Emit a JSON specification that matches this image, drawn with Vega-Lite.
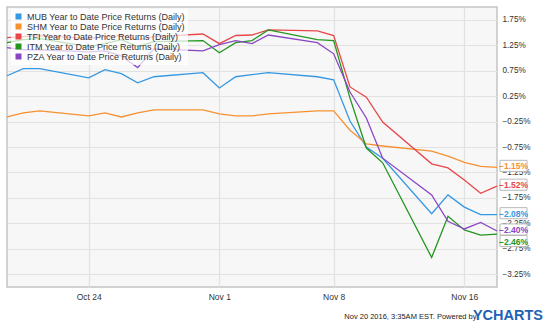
{
  "$schema": "https://vega.github.io/schema/vega-lite/v6.json",
  "width": 490,
  "height": 280,
  "autosize": {"type": "none"},
  "padding": {"left": 7, "top": 7, "right": 53, "bottom": 37},
  "background": "white",
  "config": {
    "font": "Liberation Sans",
    "view": {"fill": "#f7f7f7", "stroke": "#c4c4c4", "strokeWidth": 1.5}
  },
  "title": {
    "text": "YCHARTS",
    "orient": "bottom",
    "anchor": "end",
    "frame": "group",
    "fontSize": 14.5,
    "fontWeight": "bold",
    "color": "#1e63b5",
    "dx": 46,
    "dy": -11,
    "offset": 0
  },
  "data": {
    "values": [
      {"ticker": "MUB", "date": "2016-10-19", "value": 0.65},
      {"ticker": "MUB", "date": "2016-10-20", "value": 0.79},
      {"ticker": "MUB", "date": "2016-10-21", "value": 0.79},
      {"ticker": "MUB", "date": "2016-10-24", "value": 0.61},
      {"ticker": "MUB", "date": "2016-10-25", "value": 0.77},
      {"ticker": "MUB", "date": "2016-10-26", "value": 0.69},
      {"ticker": "MUB", "date": "2016-10-27", "value": 0.51},
      {"ticker": "MUB", "date": "2016-10-28", "value": 0.63},
      {"ticker": "MUB", "date": "2016-10-31", "value": 0.71},
      {"ticker": "MUB", "date": "2016-11-01", "value": 0.41},
      {"ticker": "MUB", "date": "2016-11-02", "value": 0.63},
      {"ticker": "MUB", "date": "2016-11-03", "value": 0.67},
      {"ticker": "MUB", "date": "2016-11-04", "value": 0.71},
      {"ticker": "MUB", "date": "2016-11-07", "value": 0.63},
      {"ticker": "MUB", "date": "2016-11-08", "value": 0.57},
      {"ticker": "MUB", "date": "2016-11-09", "value": -0.24},
      {"ticker": "MUB", "date": "2016-11-10", "value": -0.75},
      {"ticker": "MUB", "date": "2016-11-11", "value": -0.97},
      {"ticker": "MUB", "date": "2016-11-14", "value": -2.06},
      {"ticker": "MUB", "date": "2016-11-15", "value": -1.69},
      {"ticker": "MUB", "date": "2016-11-16", "value": -1.93},
      {"ticker": "MUB", "date": "2016-11-17", "value": -2.08},
      {"ticker": "MUB", "date": "2016-11-18", "value": -2.08},
      {"ticker": "SHM", "date": "2016-10-19", "value": -0.16},
      {"ticker": "SHM", "date": "2016-10-20", "value": -0.08},
      {"ticker": "SHM", "date": "2016-10-21", "value": -0.04},
      {"ticker": "SHM", "date": "2016-10-24", "value": -0.14},
      {"ticker": "SHM", "date": "2016-10-25", "value": -0.08},
      {"ticker": "SHM", "date": "2016-10-26", "value": -0.16},
      {"ticker": "SHM", "date": "2016-10-27", "value": -0.08},
      {"ticker": "SHM", "date": "2016-10-28", "value": -0.02},
      {"ticker": "SHM", "date": "2016-10-31", "value": -0.02},
      {"ticker": "SHM", "date": "2016-11-01", "value": -0.10},
      {"ticker": "SHM", "date": "2016-11-02", "value": -0.14},
      {"ticker": "SHM", "date": "2016-11-03", "value": -0.14},
      {"ticker": "SHM", "date": "2016-11-04", "value": -0.10},
      {"ticker": "SHM", "date": "2016-11-07", "value": -0.04},
      {"ticker": "SHM", "date": "2016-11-08", "value": -0.04},
      {"ticker": "SHM", "date": "2016-11-09", "value": -0.42},
      {"ticker": "SHM", "date": "2016-11-10", "value": -0.69},
      {"ticker": "SHM", "date": "2016-11-11", "value": -0.73},
      {"ticker": "SHM", "date": "2016-11-14", "value": -0.83},
      {"ticker": "SHM", "date": "2016-11-15", "value": -0.93},
      {"ticker": "SHM", "date": "2016-11-16", "value": -1.05},
      {"ticker": "SHM", "date": "2016-11-17", "value": -1.13},
      {"ticker": "SHM", "date": "2016-11-18", "value": -1.15},
      {"ticker": "TFI", "date": "2016-10-19", "value": 1.40},
      {"ticker": "TFI", "date": "2016-10-20", "value": 1.42},
      {"ticker": "TFI", "date": "2016-10-21", "value": 1.44},
      {"ticker": "TFI", "date": "2016-10-24", "value": 1.38},
      {"ticker": "TFI", "date": "2016-10-25", "value": 1.42},
      {"ticker": "TFI", "date": "2016-10-26", "value": 1.44},
      {"ticker": "TFI", "date": "2016-10-27", "value": 1.36},
      {"ticker": "TFI", "date": "2016-10-28", "value": 1.42},
      {"ticker": "TFI", "date": "2016-10-31", "value": 1.47},
      {"ticker": "TFI", "date": "2016-11-01", "value": 1.28},
      {"ticker": "TFI", "date": "2016-11-02", "value": 1.44},
      {"ticker": "TFI", "date": "2016-11-03", "value": 1.45},
      {"ticker": "TFI", "date": "2016-11-04", "value": 1.55},
      {"ticker": "TFI", "date": "2016-11-07", "value": 1.53},
      {"ticker": "TFI", "date": "2016-11-08", "value": 1.44},
      {"ticker": "TFI", "date": "2016-11-09", "value": 0.43},
      {"ticker": "TFI", "date": "2016-11-10", "value": 0.23},
      {"ticker": "TFI", "date": "2016-11-11", "value": -0.26},
      {"ticker": "TFI", "date": "2016-11-14", "value": -1.08},
      {"ticker": "TFI", "date": "2016-11-15", "value": -1.16},
      {"ticker": "TFI", "date": "2016-11-16", "value": -1.40},
      {"ticker": "TFI", "date": "2016-11-17", "value": -1.66},
      {"ticker": "TFI", "date": "2016-11-18", "value": -1.52},
      {"ticker": "ITM", "date": "2016-10-19", "value": 1.30},
      {"ticker": "ITM", "date": "2016-10-20", "value": 1.36},
      {"ticker": "ITM", "date": "2016-10-21", "value": 1.38},
      {"ticker": "ITM", "date": "2016-10-24", "value": 1.22},
      {"ticker": "ITM", "date": "2016-10-25", "value": 1.28},
      {"ticker": "ITM", "date": "2016-10-26", "value": 1.36},
      {"ticker": "ITM", "date": "2016-10-27", "value": 1.22},
      {"ticker": "ITM", "date": "2016-10-28", "value": 1.32},
      {"ticker": "ITM", "date": "2016-10-31", "value": 1.34},
      {"ticker": "ITM", "date": "2016-11-01", "value": 1.10},
      {"ticker": "ITM", "date": "2016-11-02", "value": 1.30},
      {"ticker": "ITM", "date": "2016-11-03", "value": 1.34},
      {"ticker": "ITM", "date": "2016-11-04", "value": 1.55},
      {"ticker": "ITM", "date": "2016-11-07", "value": 1.36},
      {"ticker": "ITM", "date": "2016-11-08", "value": 1.34},
      {"ticker": "ITM", "date": "2016-11-09", "value": 0.21},
      {"ticker": "ITM", "date": "2016-11-10", "value": -0.77},
      {"ticker": "ITM", "date": "2016-11-11", "value": -1.06},
      {"ticker": "ITM", "date": "2016-11-14", "value": -2.92},
      {"ticker": "ITM", "date": "2016-11-15", "value": -2.11},
      {"ticker": "ITM", "date": "2016-11-16", "value": -2.38},
      {"ticker": "ITM", "date": "2016-11-17", "value": -2.48},
      {"ticker": "ITM", "date": "2016-11-18", "value": -2.46},
      {"ticker": "PZA", "date": "2016-10-19", "value": 1.20},
      {"ticker": "PZA", "date": "2016-10-20", "value": 1.16},
      {"ticker": "PZA", "date": "2016-10-21", "value": 1.16},
      {"ticker": "PZA", "date": "2016-10-24", "value": 1.12},
      {"ticker": "PZA", "date": "2016-10-25", "value": 1.14},
      {"ticker": "PZA", "date": "2016-10-26", "value": 1.04},
      {"ticker": "PZA", "date": "2016-10-27", "value": 0.81},
      {"ticker": "PZA", "date": "2016-10-28", "value": 1.18},
      {"ticker": "PZA", "date": "2016-10-31", "value": 1.14},
      {"ticker": "PZA", "date": "2016-11-01", "value": 1.26},
      {"ticker": "PZA", "date": "2016-11-02", "value": 1.34},
      {"ticker": "PZA", "date": "2016-11-03", "value": 1.28},
      {"ticker": "PZA", "date": "2016-11-04", "value": 1.45},
      {"ticker": "PZA", "date": "2016-11-07", "value": 1.30},
      {"ticker": "PZA", "date": "2016-11-08", "value": 1.08},
      {"ticker": "PZA", "date": "2016-11-09", "value": 0.33},
      {"ticker": "PZA", "date": "2016-11-10", "value": -0.18},
      {"ticker": "PZA", "date": "2016-11-11", "value": -0.97},
      {"ticker": "PZA", "date": "2016-11-14", "value": -1.69},
      {"ticker": "PZA", "date": "2016-11-15", "value": -2.21},
      {"ticker": "PZA", "date": "2016-11-16", "value": -2.36},
      {"ticker": "PZA", "date": "2016-11-17", "value": -2.23},
      {"ticker": "PZA", "date": "2016-11-18", "value": -2.40}
    ]
  },
  "encoding": {
    "x": {
      "field": "date",
      "type": "temporal",
      "scale": {
        "type": "utc",
        "domain": [
          {"year": 2016, "month": 10, "date": 19, "utc": true},
          {"year": 2016, "month": 11, "date": 18, "utc": true}
        ]
      },
      "axis": {
        "values": [
          {"year": 2016, "month": 10, "date": 24, "utc": true},
          {"year": 2016, "month": 11, "date": 1, "utc": true},
          {"year": 2016, "month": 11, "date": 8, "utc": true},
          {"year": 2016, "month": 11, "date": 16, "utc": true}
        ],
        "format": "%b %-d",
        "labelFontSize": 8.5,
        "labelColor": "#333333",
        "labelPadding": 5,
        "ticks": false,
        "domain": false,
        "grid": true,
        "gridColor": "#e2e2e2",
        "gridWidth": 1.2,
        "title": "Nov 20 2016, 3:35AM EST.  Powered by",
        "titleFontSize": 7.5,
        "titleFontWeight": "normal",
        "titleColor": "#222222",
        "titleAnchor": "end",
        "titleAlign": "right",
        "titleBaseline": "alphabetic",
        "titleX": 469,
        "titleY": 31
      }
    },
    "y": {
      "field": "value",
      "type": "quantitative",
      "scale": {"domain": [-3.5, 2.0], "nice": false, "zero": false},
      "axis": {
        "orient": "right",
        "values": [-3.25, -2.75, -2.25, -1.75, -1.25, -0.75, -0.25, 0.25, 0.75, 1.25, 1.75],
        "labelExpr": "format(datum.value, '.2f') + '%'",
        "labelFontSize": 8.2,
        "labelColor": "#333333",
        "labelPadding": 5,
        "ticks": false,
        "domain": false,
        "grid": true,
        "gridColor": "#e2e2e2",
        "gridWidth": 1.2,
        "title": null
      }
    }
  },
  "layer": [
    {
      "mark": {"type": "line", "strokeWidth": 1.3},
      "encoding": {
        "color": {
          "field": "ticker",
          "type": "nominal",
          "sort": null,
          "scale": {
            "domain": ["MUB", "SHM", "TFI", "ITM", "PZA"],
            "range": ["#3598e3", "#f7912f", "#e8474a", "#23951f", "#8a47c4"]
          },
          "legend": {
            "orient": "none",
            "legendX": 4,
            "legendY": 2,
            "title": null,
            "symbolType": "square",
            "symbolSize": 36,
            "labelFontSize": 9,
            "labelColor": "#333333",
            "fillColor": "rgba(255,255,255,0.72)",
            "padding": 3,
            "rowPadding": 0,
            "labelExpr": "datum.label + ' Year to Date Price Returns (Daily)'",
            "encode": {
              "symbols": {
                "update": {
                  "fill": {"scale": "color", "field": "value"},
                  "fillOpacity": {"value": 1},
                  "strokeWidth": {"value": 0}
                }
              }
            }
          }
        }
      }
    },
    {
      "transform": [
        {"filter": {"field": "date", "equal": {"year": 2016, "month": 11, "date": 18, "utc": true}}},
        {"filter": "datum.ticker != 'ITM'"},
        {"calculate": "format(datum.value, '.2f') + '%'", "as": "label"}
      ],
      "layer": [
        {
          "mark": {"type": "point", "shape": "M-0.9,-0.37H0.9V0.37H-0.9Z", "size": 900, "filled": true, "fill": "white", "stroke": "#b8b8b8", "strokeWidth": 1, "opacity": 1, "xOffset": 16.5, "yOffset": -1.5},
          "encoding": {}
        },
        {
          "mark": {"type": "text", "fontSize": 8.5, "fontWeight": "bold", "align": "center", "baseline": "middle", "xOffset": 16.5, "yOffset": -1},
          "encoding": {
            "text": {"field": "label"},
            "color": {"field": "ticker", "type": "nominal", "legend": null}
          }
        }
      ]
    },
    {
      "transform": [
        {"filter": {"field": "date", "equal": {"year": 2016, "month": 11, "date": 18, "utc": true}}},
        {"filter": "datum.ticker == 'ITM'"},
        {"calculate": "format(datum.value, '.2f') + '%'", "as": "label"}
      ],
      "layer": [
        {
          "mark": {"type": "point", "shape": "M-0.9,-0.37H0.9V0.37H-0.9Z", "size": 900, "filled": true, "fill": "white", "stroke": "#b8b8b8", "strokeWidth": 1, "opacity": 1, "xOffset": 16.5, "yOffset": 7},
          "encoding": {}
        },
        {
          "mark": {"type": "text", "fontSize": 8.5, "fontWeight": "bold", "align": "center", "baseline": "middle", "xOffset": 16.5, "yOffset": 7.5},
          "encoding": {
            "text": {"field": "label"},
            "color": {"field": "ticker", "type": "nominal", "legend": null}
          }
        }
      ]
    }
  ]
}
